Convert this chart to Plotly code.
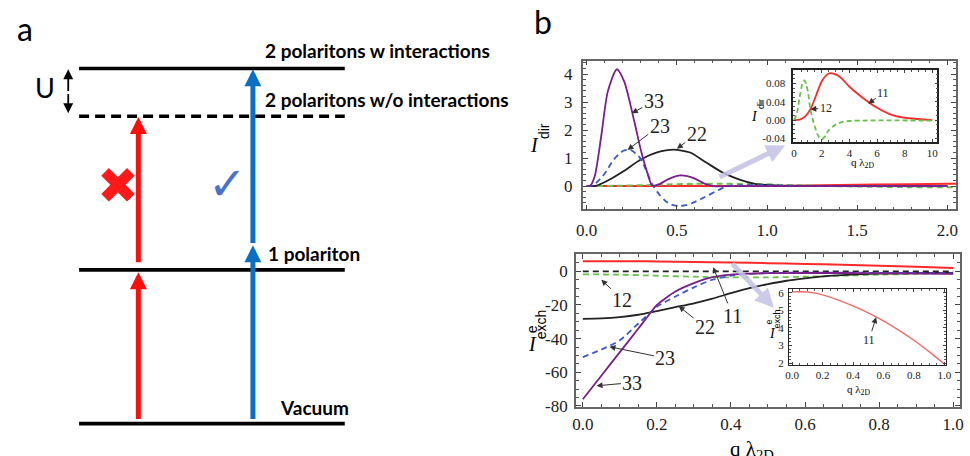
import plotly.graph_objects as go

# ---------------- panel a : energy-level diagram ----------------
level_names = ["Vacuum", "1 polariton", "2 polaritons w/o interactions", "2 polaritons w interactions"]
level_energy = [0.0, 1.0, 2.0, 2.31]
level_dash = ["solid", "solid", "10px,6px", "solid"]
red_steps = [(0.02, 0.985), (1.04, 1.995)]      # two photons at the bare energy
blue_steps = [(0.02, 1.16), (1.165, 2.305)]     # two photons at the interacting energy

# ---------------- panel b : I_dir (main) ----------------
q33_dir = [0, 0.02, 0.045, 0.08, 0.117, 0.167, 0.208, 0.263, 0.30, 0.336, 0.363, 0.40, 0.45, 0.52, 0.60, 0.65, 0.70, 0.80, 1.0, 2.0]
v33_dir = [0, 0.02, 0.37, 1.77, 3.38, 4.17, 3.73, 2.33, 1.29, 0.48, 0.02, 0.06, 0.24, 0.38, 0.27, 0.10, 0.0, 0.0, 0.0, 0.0]
q23_dir = [0, 0.03, 0.05, 0.10, 0.15, 0.20, 0.227, 0.25, 0.29, 0.31, 0.327, 0.363, 0.40, 0.436, 0.47, 0.51, 0.55, 0.58, 0.655, 0.73, 0.78, 0.85, 1.0, 1.2, 1.5, 2.0]
v23_dir = [0, 0.02, 0.10, 0.45, 0.95, 1.25, 1.30, 1.27, 1.05, 0.85, 0.60, 0.07, -0.28, -0.53, -0.66, -0.71, -0.68, -0.62, -0.39, -0.14, 0.0, 0.03, 0.03, 0.01, 0.0, 0.0]
q22_dir = [0, 0.05, 0.117, 0.208, 0.30, 0.39, 0.48, 0.573, 0.665, 0.755, 0.847, 0.94, 1.05, 1.2, 2.0]
v22_dir = [0, 0.01, 0.20, 0.55, 0.95, 1.20, 1.30, 1.20, 0.83, 0.48, 0.23, 0.07, 0.02, 0.0, 0.0]
# I_dir for 11 and 12 (main plot and inset share them)
q11_dir = [0, 0.4, 0.8, 1.2, 1.6, 2.0, 2.4, 2.6, 2.9, 3.3, 4.0, 5.0, 6.0, 7.1, 8.3, 10]
v11_dir = [0, 0.001, 0.008, 0.025, 0.055, 0.085, 0.100, 0.103, 0.101, 0.095, 0.073, 0.048, 0.027, 0.011, 0.004, 0.0]
q12_dir = [0, 0.2, 0.4, 0.6, 0.75, 0.9, 1.0, 1.17, 1.36, 1.5, 1.75, 2.0, 2.25, 2.5, 3.0, 3.5, 4.0, 5.0, 10]
v12_dir = [0, 0.015, 0.05, 0.08, 0.087, 0.075, 0.062, 0.025, 0.0, -0.015, -0.035, -0.042, -0.035, -0.022, -0.010, -0.004, -0.002, -0.001, -0.001]

# ---------------- panel b : I^e_exch ----------------
q33_ex = [0, 0.05, 0.10, 0.15, 0.185, 0.20, 0.25, 0.30, 0.35, 0.40, 0.45, 0.50, 0.60, 0.70, 0.80, 0.90, 1.0]
v33_ex = [-76, -62, -48, -34, -24, -20, -12, -7, -3.5, -2, -1.4, -1.1, -1.0, -1.0, -1.1, -1.3, -1.5]
q23_ex = [0, 0.05, 0.10, 0.15, 0.185, 0.20, 0.25, 0.30, 0.35, 0.40, 0.45, 0.50, 0.60, 0.70, 0.80, 0.90, 1.0]
v23_ex = [-51, -46.5, -41, -31, -24, -21, -15, -9.5, -5, -2.5, -1.5, -1.0, -0.8, -0.8, -0.9, -1.0, -1.2]
q22_ex = [0, 0.05, 0.10, 0.15, 0.20, 0.25, 0.30, 0.35, 0.40, 0.45, 0.50, 0.55, 0.60, 0.65, 0.70, 0.80, 0.90, 1.0]
v22_ex = [-28.3, -28, -27.2, -25.8, -23.6, -21.3, -19, -16.2, -13, -10, -7.6, -5.6, -4.2, -3, -2.2, -1.3, -1.0, -0.9]
q12_ex = [0, 0.1, 0.2, 0.3, 0.4, 0.5, 0.6, 0.7, 0.8, 0.9, 1.0]
v12_ex = [-1.8, -2.0, -2.6, -3.2, -3.6, -3.6, -3.2, -2.6, -2.0, -1.5, -1.1]
q11_ex = [0, 0.05, 0.10, 0.15, 0.20, 0.30, 0.40, 0.50, 0.60, 0.70, 0.80, 0.90, 1.0]
v11_ex = [6.05, 6.06, 6.04, 5.98, 5.88, 5.6, 5.25, 4.85, 4.4, 3.88, 3.3, 2.65, 1.95]
q_ref = [0, 1.0]
v_ref = [0, 0]

PURPLE, BLUE, BLACK, GREEN, RED, PINK = "#7a1f8c", "#3b5bc8", "#222222", "#66c24a", "#ff2a2a", "#f26a6a"
SERIF = "Liberation Serif"
SANS = "Lato"

fig = go.Figure()


def curve(x, y, xa, ya, color, dash=None, width=1.8):
    fig.add_trace(go.Scatter(x=x, y=y, mode="lines", xaxis=xa, yaxis=ya,
                             line=dict(color=color, width=width, dash=dash, shape="spline", smoothing=0.7),
                             hoverinfo="skip", showlegend=False))


# ---- panel a traces ----
LX0, LX1 = 73, 342
for name, e, d in zip(level_names, level_energy, level_dash):
    fig.add_trace(go.Scatter(x=[LX0, LX1], y=[e, e], mode="lines", xaxis="x", yaxis="y",
                             line=dict(color="black", width=3.6, dash=d), hoverinfo="skip", showlegend=False))

ann = []


def arrow(x, y0, y1, color, w, size, xref="x", yref="y", head=2):
    ann.append(dict(x=x, y=y1, ax=x, ay=y0, xref=xref, yref=yref, axref=xref, ayref=yref,
                    text="", showarrow=True, arrowhead=head, arrowwidth=w, arrowsize=size,
                    arrowcolor=color, standoff=0))


for y0, y1 in red_steps:
    arrow(133, y0, y1, "#ff0d0d", 5, 0.68)
for y0, y1 in blue_steps:
    arrow(249, y0, y1, "#0a70c4", 5, 0.68)
# U double arrow
u_mid = (level_energy[2] + level_energy[3]) / 2
arrow(62, u_mid, level_energy[3] - 0.005, "black", 1.8, 1.1)
arrow(62, u_mid, level_energy[2] + 0.02, "black", 1.8, 1.1)


def txt(x, y, s, size, xref="x", yref="y", family=SANS, color="black", xanchor="center", yanchor="middle",
        angle=0, weight="normal"):
    ann.append(dict(x=x, y=y, xref=xref, yref=yref, text=s, showarrow=False, xanchor=xanchor, yanchor=yanchor,
                    textangle=angle, font=dict(family=family, size=size, color=color, weight=weight)))


txt(259, 2.425, "2 polaritons w interactions", 19, xanchor="left", weight="bold")
txt(259, 2.108, "2 polaritons w/o interactions", 19, xanchor="left", weight="bold")
txt(262, 1.105, "1 polariton", 19, xanchor="left", weight="bold")
txt(274, 0.108, "Vacuum", 19, xanchor="left", weight="bold")
txt(38, 2.184, "U", 27)
txt(112, 1.549, "✖", 50, family="DejaVu Sans", color="#ff1a1a")
txt(223, 1.556, "✓", 46, family="DejaVu Sans", color="#4a72c8")
txt(18 / 970, 1 - 27 / 456, "a", 32, xref="paper", yref="paper")
txt(543 / 970, 1 - 20 / 456, "b", 32, xref="paper", yref="paper")

# ---- panel b top main ----
curve(q11_dir, v11_dir, "x2", "y2", RED, width=2)
curve(q12_dir, v12_dir, "x2", "y2", GREEN, dash="6px,4px", width=2)
curve(q22_dir, v22_dir, "x2", "y2", BLACK)
curve(q23_dir, v23_dir, "x2", "y2", BLUE, dash="6px,4px")
curve(q33_dir, v33_dir, "x2", "y2", PURPLE)
# ---- panel b bottom main ----
curve(q_ref, v_ref, "x3", "y3", BLACK, dash="6px,4px")
curve(q11_ex, v11_ex, "x3", "y3", RED, width=2)
curve(q12_ex, v12_ex, "x3", "y3", GREEN, dash="6px,4px")
curve(q22_ex, v22_ex, "x3", "y3", BLACK)
curve(q23_ex, v23_ex, "x3", "y3", BLUE, dash="6px,4px")
curve(q33_ex, v33_ex, "x3", "y3", PURPLE)
# ---- insets ----
curve(q11_dir, v11_dir, "x4", "y4", RED, width=1.8)
curve(q12_dir, v12_dir, "x4", "y4", GREEN, dash="5px,3px", width=1.8)
curve(q11_ex, v11_ex, "x5", "y5", PINK, width=1.4)


def label(s, tip, at, xa, ya, size=20):
    ann.append(dict(x=tip[0], y=tip[1], ax=at[0], ay=at[1], xref=xa, yref=ya, axref=xa, ayref=ya,
                    text=s, showarrow=True, arrowhead=2, arrowwidth=1, arrowsize=1.2, arrowcolor="#333",
                    standoff=0, font=dict(family=SERIF, size=size, color="#222")))


label("33", (0.25, 2.6), (0.372, 3.03), "x2", "y2")
label("23", (0.226, 1.29), (0.405, 2.16), "x2", "y2")
label("22", (0.50, 1.33), (0.61, 1.87), "x2", "y2")
label("12", (0.05, -5), (0.107, -16.8), "x3", "y3")
label("11", (0.352, 2.5), (0.405, -26.5), "x3", "y3")
label("22", (0.259, -20.7), (0.33, -33.2), "x3", "y3")
label("23", (0.072, -44.8), (0.223, -51.6), "x3", "y3")
label("33", (0.037, -68), (0.134, -66.1), "x3", "y3")
label("11", (5.36, 0.036), (6.46, 0.06), "x4", "y4", size=12)
label("12", (1.17, 0.024), (2.29, 0.026), "x4", "y4", size=12)
label("11", (0.552, 4.61), (0.506, 3.33), "x5", "y5", size=12)

# lavender pointer arrows toward insets
ann.append(dict(x=1.10, y=1.45, ax=0.728, ay=0.3, xref="x2", yref="y2", axref="x2", ayref="y2", text="",
                showarrow=True, arrowhead=2, arrowwidth=5, arrowsize=0.75, arrowcolor="rgba(195,195,230,0.85)"))
ann.append(dict(x=0.516, y=-21.6, ax=0.40, ay=5.4, xref="x3", yref="y3", axref="x3", ayref="y3", text="",
                showarrow=True, arrowhead=2, arrowwidth=5, arrowsize=0.75, arrowcolor="rgba(195,195,230,0.85)"))

# axis titles
txt(534 / 970, 1 - 147 / 456, "<i>I</i>", 20, xref="paper", yref="paper", family=SERIF)
txt(544 / 970, 1 - 132 / 456, "dir", 14, xref="paper", yref="paper", family="Liberation Sans", angle=-90)
txt(532 / 970, 1 - 350 / 456, "<i>I</i>", 20, xref="paper", yref="paper", family=SERIF)
txt(531 / 970, 1 - 335 / 456, "e", 14, xref="paper", yref="paper", family="Liberation Sans", angle=-90)
txt(541 / 970, 1 - 330 / 456, "exch", 14, xref="paper", yref="paper", family="Liberation Sans", angle=-90)
txt(730 / 970, 1 - 444 / 456, "q λ<sub>2D</sub>", 21, xref="paper", yref="paper", family=SERIF,
    xanchor="left", yanchor="top")
# inset titles
txt(866 / 970, 1 - 165 / 456, "q λ<sub>2D</sub>", 11, xref="paper", yref="paper", family=SERIF)
txt(757 / 970, 1 - 117 / 456, "<i>I</i>", 14, xref="paper", yref="paper", family=SERIF)
txt(764 / 970, 1 - 105 / 456, "dir", 9, xref="paper", yref="paper", family="Liberation Sans", angle=-90)
txt(862 / 970, 1 - 398 / 456, "q λ<sub>2D</sub>", 11, xref="paper", yref="paper", family=SERIF)
txt(775 / 970, 1 - 340 / 456, "<i>I</i>", 14, xref="paper", yref="paper", family=SERIF)
txt(772 / 970, 1 - 328 / 456, "e", 9, xref="paper", yref="paper", family="Liberation Sans", angle=-90)
txt(780 / 970, 1 - 325 / 456, "exch", 9, xref="paper", yref="paper", family="Liberation Sans", angle=-90)


def frame(domain, rng, anchor, dtick=None, mdtick=None, fmt=None, size=17, lc="#666", lw=1.6,
          tickvals=None, ticktext=None, standoff=3, tl=5, mtl=3):
    d = dict(domain=domain, range=rng, anchor=anchor, showline=True, linecolor=lc, linewidth=lw,
             mirror="allticks", ticks="inside", ticklen=tl, tickwidth=1, tickcolor="#444",
             showgrid=False, zeroline=False, ticklabelstandoff=standoff,
             tickfont=dict(family=SERIF, size=size, color="#222"),
             minor=dict(ticks="inside", ticklen=mtl, tickwidth=1, tickcolor="#555", dtick=mdtick, showgrid=False))
    if tickvals is not None:
        d.update(tickmode="array", tickvals=tickvals, ticktext=ticktext)
    else:
        d.update(dtick=dtick, tick0=0, tickformat=fmt)
    return d


W, H = 970, 456
layout = dict(
    width=W, height=H, margin=dict(l=0, r=0, t=0, b=0), paper_bgcolor="white", plot_bgcolor="white",
    showlegend=False, annotations=ann,
    xaxis=dict(domain=[0, 520 / W], range=[0, 520], visible=False, anchor="y"),
    yaxis=dict(domain=[0, 1], range=[-0.152, 2.743], visible=False, anchor="x"),
    xaxis2=frame([583 / W, 961 / W], [-0.0219, 2.0482], "y2", dtick=0.5, mdtick=0.1, fmt=".1f", standoff=4),
    yaxis2=frame([1 - 212.5 / H, 1 - 60 / H], [-0.83, 4.48], "x2", dtick=1, mdtick=0.2, fmt="d", standoff=5),
    xaxis3=frame([576 / W, 965 / W], [-0.0187, 1.0187], "y3", dtick=0.2, mdtick=0.05, fmt=".1f", standoff=1),
    yaxis3=frame([1 - 415 / H, 1 - 258 / H], [-80.6, 10.43], "x3", mdtick=5,
                 tickvals=[-80, -60, -40, -20, 0], ticktext=["-80", "-60", "-40", "-20", "0"], standoff=3),
    xaxis4=frame([796 / W, 942 / W], [-0.07, 10.36], "y4", dtick=2, mdtick=0.5, fmt="d", size=11,
                 lc="#222", lw=1.6, standoff=0, tl=3, mtl=2),
    yaxis4=frame([1 - 143 / H, 1 - 70 / H], [-0.047, 0.109], "x4", mdtick=0.01, size=11, lc="#222", lw=1.6,
                 tickvals=[-0.04, 0, 0.04, 0.08], ticktext=["-0.04", "0.00", "0.04", "0.08"], standoff=4,
                 tl=3, mtl=2),
    xaxis5=frame([792 / W, 951 / W], [-0.0195, 1.013], "y5", dtick=0.2, mdtick=0.05, fmt=".1f", size=11,
                 lc="#222", lw=1.4, standoff=0, tl=3, mtl=2),
    yaxis5=frame([1 - 372 / H, 1 - 294 / H], [1.89, 6.22], "x5", dtick=1, mdtick=0.2, fmt="d", size=11,
                 lc="#222", lw=1.4, standoff=2, tl=3, mtl=2),
)
fig.update_layout(**layout)
fig.write_html("out.html")
